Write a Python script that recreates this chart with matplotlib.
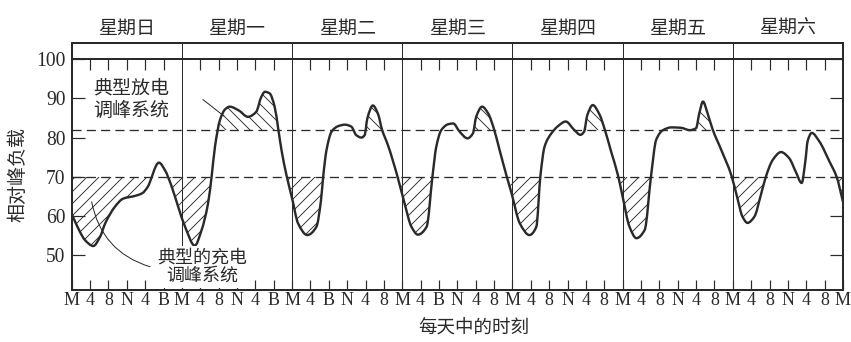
import numpy as np
import matplotlib
matplotlib.use("Agg")
import matplotlib.pyplot as plt
from matplotlib.path import Path
from matplotlib.patches import PathPatch, Rectangle

plt.rcParams["font.family"] = ["Noto Sans CJK SC", "DejaVu Sans"]
plt.rcParams["hatch.linewidth"] = 0.9

# ---------------------------------------------------------------- data
days = ["星期日", "星期一", "星期二", "星期三", "星期四", "星期五", "星期六"]

tick_labels = (["M", "4", "8", "N", "4", "B"] * 2
               + ["M", "4", "B", "N", "4", "8"] * 2
               + ["M", "4", "8", "N", "4", "8"] * 3
               + ["M"])

# hour of day -> relative peak load (%)
sun_t = [0, 1.8, 2.9, 4.7, 6.2, 7.3, 9.4, 11.2, 13.8, 15.4, 16.5, 19.0, 20.3, 21.8, 23.2]
sun_load = [60.5, 55.9, 53.8, 52.3, 54.7, 58.1, 62.3, 64.4, 65.1, 65.8, 67.3, 73.6, 71.7, 67.4, 62.3]

mon_t = [0.7, 2.8, 4.3, 5.7, 6.5, 7.2, 8.3, 9.4, 10.4, 12.3, 14.4, 16.2, 17.3, 18.1, 19.1, 20.2, 21.0, 21.7, 22.8]
mon_load = [57.2, 52.4, 56.4, 63.2, 70.3, 77.6, 84.5, 87.2, 87.9, 87.0, 85.3, 86.6, 90.4, 91.7, 91.3, 87.9, 82.1, 76.8, 70.3]

tue_t = [0, 1.3, 3.3, 5.3, 6.3, 6.8, 7.5, 8.6, 10.0, 11.5, 12.9, 14.0, 15.1, 15.8, 16.4, 17.6, 18.7, 19.6, 20.9, 22.9]
tue_load = [64.5, 58.1, 55.1, 57.2, 64.0, 70.3, 76.8, 81.5, 82.9, 83.3, 82.8, 80.6, 80.0, 80.6, 84.9, 88.2, 86.1, 82.0, 78.0, 70.3]

wed_t = [0.5, 2.0, 3.4, 5.3, 6.6, 7.4, 8.5, 10.0, 11.1, 12.5, 14.2, 15.4, 16.1, 17.4, 18.7, 20.0, 21.2, 22.7, 23.8]
wed_load = [63.2, 57.2, 55.2, 57.2, 70.3, 77.6, 81.9, 83.4, 83.6, 81.5, 79.8, 81.1, 85.3, 87.9, 86.2, 82.1, 76.8, 70.3, 65.8]

thu_t = [1.6, 3.7, 5.2, 6.1, 7.0, 8.5, 9.9, 11.6, 13.5, 14.8, 15.6, 16.3, 17.5, 19.0, 20.1, 21.5, 23.0]
thu_load = [58.1, 55.1, 57.2, 70.3, 77.7, 81.1, 82.9, 84.1, 81.9, 80.7, 81.5, 85.7, 88.3, 85.8, 82.1, 76.4, 70.3]

fri_t = [0.0, 1.5, 3.0, 4.8, 6.2, 7.3, 8.8, 10.6, 12.7, 14.6, 16.0, 16.7, 17.5, 18.5, 19.6, 21.5, 23.7]
fri_load = [64.9, 57.2, 54.3, 56.4, 70.3, 79.4, 81.9, 82.6, 82.5, 81.9, 82.4, 86.2, 89.2, 86.2, 82.1, 76.8, 70.3]

sat_t = [1.0, 2.1, 3.2, 4.7, 6.1, 7.2, 8.7, 10.5, 12.3, 13.7, 15.0, 15.8, 16.3, 17.2, 18.8, 21.0, 22.6, 24.0]
sat_load = [64.5, 59.8, 58.2, 59.8, 65.3, 70.0, 74.3, 76.3, 74.7, 71.3, 68.4, 74.0, 79.1, 81.2, 79.1, 74.0, 70.0, 63.6]

discharge_level = 82
charge_level = 70

# hatched spans (hours of the week)
charge_spans = [(0, 157), (162, 168)]
discharge_spans = [(28, 48), (63, 70), (86, 94), (110.5, 118), (135.5, 142)]

y_ticks = [50, 60, 70, 80, 90, 100]

# ---------------------------------------------------------------- curve
day_t = [sun_t, mon_t, tue_t, wed_t, thu_t, fri_t, sat_t]
day_load = [sun_load, mon_load, tue_load, wed_load, thu_load, fri_load, sat_load]
hours = np.concatenate([np.asarray(t, float) + 24 * i for i, t in enumerate(day_t)])
load = np.concatenate([np.asarray(v, float) for v in day_load])


def smooth_path(x, y):
    """Piecewise cubic Bezier path through the samples (monotone slopes)."""
    h = np.diff(x)
    d = np.diff(y) / h
    m = np.zeros_like(y)
    for i in range(1, len(y) - 1):
        if d[i - 1] * d[i] > 0:
            w1 = 2 * h[i] + h[i - 1]
            w2 = h[i] + 2 * h[i - 1]
            m[i] = (w1 + w2) / (w1 / d[i - 1] + w2 / d[i])
    m[0], m[-1] = d[0], d[-1]
    verts = [(x[0], y[0])]
    codes = [Path.MOVETO]
    for i in range(len(x) - 1):
        verts += [(x[i] + h[i] / 3, y[i] + m[i] * h[i] / 3),
                  (x[i + 1] - h[i] / 3, y[i + 1] - m[i + 1] * h[i] / 3),
                  (x[i + 1], y[i + 1])]
        codes += [Path.CURVE4] * 3
    return verts, codes


verts, codes = smooth_path(hours, load)
curve = Path(verts, codes)

YMIN, YMAX = 41.06, 104.16
XMAX = 168

above_curve = Path(verts + [(XMAX, 200), (0, 200), verts[0]],
                   codes + [Path.LINETO, Path.LINETO, Path.CLOSEPOLY])
below_curve = Path(verts + [(XMAX, 0), (0, 0), verts[0]],
                   codes + [Path.LINETO, Path.LINETO, Path.CLOSEPOLY])

# ---------------------------------------------------------------- figure
ink = "#2a2a2a"
fig = plt.figure(figsize=(851 / 72, 342 / 72), dpi=72)
ax = fig.add_axes([71.7 / 851, 1 - 290 / 342, (843 - 71.7) / 851, (290 - 43) / 342])
ax.set_xlim(0, XMAX)
ax.set_ylim(YMIN, YMAX)

for x0, x1 in charge_spans:
    r = Rectangle((x0, YMIN), x1 - x0, charge_level - YMIN, facecolor="none",
                  edgecolor=ink, linewidth=0, hatch="//", zorder=1)
    ax.add_patch(r)
    r.set_clip_path(above_curve, ax.transData)

for x0, x1 in discharge_spans:
    r = Rectangle((x0, discharge_level), x1 - x0, 100 - discharge_level,
                  facecolor="none", edgecolor=ink, linewidth=0, hatch="\\\\", zorder=1)
    ax.add_patch(r)
    r.set_clip_path(below_curve, ax.transData)

ax.axhline(discharge_level, color=ink, lw=1.3, dashes=(7, 4), zorder=2)
ax.axhline(charge_level, color=ink, lw=1.3, dashes=(7, 4), zorder=2)
ax.axhline(100, color=ink, lw=2.0, zorder=2)
ax.vlines(np.arange(24, XMAX, 24), YMIN, YMAX, color=ink, lw=1.0, zorder=2)

tick_pos = np.arange(0, XMAX + 1, 4)
inner = tick_pos[(tick_pos % 24) != 0]
ax.vlines(inner, 100 - 2.8, 100, color=ink, lw=1.2, zorder=2)

ax.add_patch(PathPatch(curve, facecolor="none", edgecolor=ink, lw=2.4,
                       capstyle="round", joinstyle="round", zorder=3))

for s in ax.spines.values():
    s.set_linewidth(2.0)
    s.set_color(ink)
    s.set_zorder(6)

ax.set_xticks(tick_pos)
ax.set_xticklabels(tick_labels, fontfamily="Liberation Serif", fontsize=18, color=ink)
ax.set_yticks(y_ticks)
ax.set_yticklabels([str(v) for v in y_ticks], fontfamily="Liberation Serif",
                   fontsize=19.5, color=ink)
ax.tick_params(axis="x", direction="in", length=10, width=1.2, color=ink, pad=2)
ax.tick_params(axis="y", direction="in", length=13, width=1.2, color=ink,
               right=True, pad=6)

for i, name in enumerate(days):
    ax.text(24 * i + 12, 108.0, name, ha="center", va="center", fontsize=19,
            color=ink, clip_on=False)

ax.text(4.7, 89.86, "典型放电\n调峰系统", ha="left", va="center", fontsize=19,
        color=ink, linespacing=1.1, zorder=4)
ax.annotate("", xy=(33.14, 85.51), xytext=(28.57, 89.73),
            arrowprops=dict(arrowstyle="-", color=ink, lw=1.0,
                            shrinkA=0, shrinkB=0), zorder=4)

ax.text(28.5, 47.0, "典型的充电\n调峰系统", ha="center", va="center", fontsize=18,
        color=ink, linespacing=1.02, zorder=5,
        bbox=dict(boxstyle="square,pad=0.15", facecolor="white", edgecolor="none"))
ax.annotate("", xy=(17.04, 47.0), xytext=(4.35, 63.6),
            arrowprops=dict(arrowstyle="-", color=ink, lw=1.0, shrinkA=0, shrinkB=0,
                            connectionstyle="arc3,rad=0.3"), zorder=4)

fig.text(474 / 851, 1 - 328 / 342, "每天中的时刻", ha="center", va="center",
         fontsize=18.5, color=ink)
fig.text(17.5 / 851, 1 - 174 / 342, "相对峰负载", ha="center", va="center",
         rotation=90, fontsize=19, color=ink)

fig.savefig("out.png", dpi=72, facecolor="white")
